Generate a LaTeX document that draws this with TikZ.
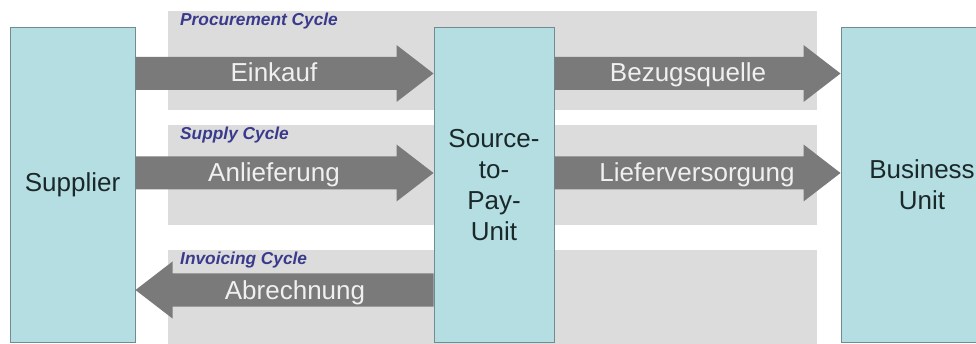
\documentclass[tikz,border=0pt]{standalone}
\usepackage{fontspec}
\setmainfont{Liberation Sans}
\usetikzlibrary{calc}
\definecolor{unitfill}{RGB}{180,222,226}
\definecolor{unitline}{RGB}{112,140,142}
\definecolor{bandgray}{RGB}{220,220,220}
\definecolor{arrowgray}{RGB}{122,122,122}
\definecolor{cyclelabel}{RGB}{58,58,140}
\definecolor{unittext}{RGB}{26,40,42}
\tikzset{
  unitbox/.style={draw=unitline, line width=1pt, fill=unitfill, rectangle,
    inner sep=0pt, align=center, text=unittext,
    font=\fontsize{26}{31}\selectfont},
  band/.style={fill=bandgray},
  cyclename/.style={anchor=base west, inner sep=0pt, text=cyclelabel,
    font=\fontsize{17.3}{19}\selectfont\bfseries\itshape},
  flowtext/.style={anchor=base, inner sep=0pt, text=white!94!black,
    font=\fontsize{26}{30}\selectfont},
  flowarrow/.style={fill=arrowgray}
}
% block arrow from the tail point #1 to the tip point #2 (horizontal)
\newcommand\blockarrow[2]{%
  \path[flowarrow] let \p1=(#1), \p2=(#2),
      \n1={ifthenelse(\x2>\x1,1,-1)} in
    (\x1,\y1+16.5pt) -- (\x2-\n1*37pt,\y1+16.5pt) -- (\x2-\n1*37pt,\y1+28.5pt)
    -- (\x2,\y1) -- (\x2-\n1*37pt,\y1-28.5pt) -- (\x2-\n1*37pt,\y1-16.5pt)
    -- (\x1,\y1-16.5pt) -- cycle;}
\begin{document}
\begin{tikzpicture}[x=1pt,y=-1pt]
\useasboundingbox (0,0) rectangle (976,344);
\clip (0,0) rectangle (976,344);
\fill[white] (0,0) rectangle (976,344);

% cycle bands
\fill[band] (168,11) rectangle (817,110);
\fill[band] (168,125) rectangle (817,225);
\fill[band] (168,250) rectangle (817,350);

% units
\node[unitbox, minimum width=125pt, minimum height=314pt] (sup) at (72.5,185) {Supplier};
\node[unitbox, minimum width=120pt, minimum height=314pt] (stp) at (494,185) {Source-\\to-\\Pay-\\Unit};
\node[unitbox, minimum width=162pt, minimum height=314pt] (bu) at (922,185) {Business\\Unit};

% cycle names
\node[cyclename] (lproc) at (180,26) {Procurement Cycle};
\node[cyclename] (lsupp) at (180,140) {Supply Cycle};
\node[cyclename] (linv) at (180,265) {Invoicing Cycle};

% flow anchors on the unit boxes
\coordinate (a1s) at (sup.east |- 0,73.5);
\coordinate (a1t) at (stp.west |- 0,73.5);
\coordinate (a2s) at (stp.east |- 0,73.5);
\coordinate (a2t) at (bu.west |- 0,73.5);
\coordinate (a3s) at (sup.east |- 0,173);
\coordinate (a3t) at (stp.west |- 0,173);
\coordinate (a4s) at (stp.east |- 0,173);
\coordinate (a4t) at (bu.west |- 0,173);
\coordinate (a5s) at (stp.west |- 0,290);
\coordinate (a5t) at (sup.east |- 0,290);

% flows
\blockarrow{a1s}{a1t}
\blockarrow{a2s}{a2t}
\blockarrow{a3s}{a3t}
\blockarrow{a4s}{a4t}
\blockarrow{a5s}{a5t}

\node[flowtext] (t1) at (274,82) {Einkauf};
\node[flowtext] (t2) at (688,82) {Bezugsquelle};
\node[flowtext] (t3) at (274,182) {Anlieferung};
\node[flowtext] (t4) at (697,182) {Lieferversorgung};
\node[flowtext] (t5) at (295,299) {Abrechnung};
\end{tikzpicture}
\end{document}
